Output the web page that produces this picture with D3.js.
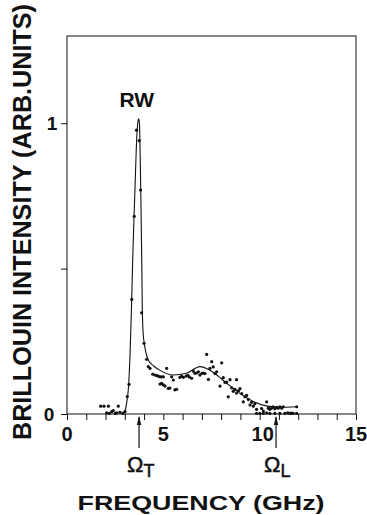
<!DOCTYPE html>
<html>
<head>
<meta charset="utf-8">
<script src="https://cdn.jsdelivr.net/npm/d3@7"></script>
<style>
  body { margin: 0; background: #fff; }
  svg { display: block; font-family: "Liberation Sans", Arial, sans-serif; }
</style>
</head>
<body>
<svg width="367" height="515"></svg>
<script>
// fitted curve (frequency in GHz, intensity in arb. units)
const curveFreq = [2.84, 3.0, 3.1, 3.2, 3.27, 3.34, 3.41, 3.49, 3.55, 3.62, 3.68, 3.72, 3.76, 3.8, 3.84, 3.88, 3.91, 3.95, 4.01, 4.1, 4.22, 4.5, 4.83, 5.5, 6.2, 6.9, 7.3, 7.6, 8.3, 9.0, 9.7, 10.4, 11.0, 11.92];
const curveInt  = [0.0, 0.01, 0.04, 0.1, 0.2, 0.35, 0.53, 0.7, 0.82, 0.95, 1.005, 1.015, 1.0, 0.88, 0.72, 0.52, 0.36, 0.28, 0.243, 0.21, 0.186, 0.165, 0.15, 0.134, 0.14, 0.163, 0.155, 0.143, 0.105, 0.07, 0.042, 0.027, 0.023, 0.025];

// measured points
const dotFreq = [1.75, 1.92, 2.15, 2.66, 2.06, 2.2, 2.32, 2.4, 2.5, 2.58, 2.75, 2.9, 3.01,
  3.13, 3.22, 3.36, 3.49, 3.61, 3.75, 3.82, 3.87, 4.0, 4.13, 4.22, 4.31,
  4.45, 4.57, 4.66, 4.74, 4.83, 4.91, 5.0, 4.83, 4.91, 5.0, 5.09, 5.17, 5.26, 5.34, 5.43, 5.52, 5.6, 5.69,
  5.86, 5.95, 6.04, 6.18, 6.27, 6.35, 6.47, 6.56, 6.64, 6.73, 6.82, 6.9, 7.0, 7.08, 7.16,
  7.25, 7.34, 7.42, 7.51, 7.59, 7.68, 7.77, 7.94, 8.03, 8.11, 8.2, 8.29, 8.37, 8.46, 8.55, 8.63, 8.72,
  8.8, 8.8, 8.9, 8.98, 9.07, 9.15, 9.24, 9.32, 9.41, 9.5, 9.58, 9.67, 9.75, 9.84, 10.01, 10.1, 10.19,
  10.36, 10.45, 10.53, 10.62, 10.7, 10.79, 10.88, 10.96, 11.05, 11.14, 11.22, 11.92,
  9.84, 10.19, 10.36, 10.53, 10.79, 11.05, 11.31, 11.45, 11.57, 11.65, 11.74, 11.92];
const dotInt = [0.027, 0.027, 0.027, 0.027, 0.004, 0.002, 0.008, 0.012, 0.002, 0.004, 0.006, 0.002, 0.008,
  0.06, 0.102, 0.394, 0.68, 0.976, 0.94, 0.77, 0.348, 0.243, 0.188, 0.163, 0.157,
  0.137, 0.134, 0.132, 0.13, 0.128, 0.128, 0.128, 0.103, 0.105, 0.1, 0.096, 0.157, 0.088, 0.089, 0.128, 0.117, 0.083, 0.085,
  0.126, 0.13, 0.126, 0.13, 0.133, 0.127, 0.123, 0.147, 0.14, 0.141, 0.145, 0.134, 0.14, 0.141, 0.139,
  0.205, 0.119, 0.157, 0.18, 0.162, 0.139, 0.145, 0.096, 0.176, 0.125, 0.109, 0.11, 0.059, 0.118, 0.09, 0.078, 0.085,
  0.118, 0.072, 0.08, 0.087, 0.07, 0.042, 0.059, 0.064, 0.05, 0.031, 0.04, 0.027, 0.035, 0.016, 0.002, 0.019, 0.01,
  0.042, 0.02, 0.016, 0.02, 0.025, 0.018, 0.023, 0.02, 0.025, 0.02, 0.025, 0.025,
  0.002, 0.002, 0.004, 0.002, 0.002, 0.002, 0.002, 0.004, 0.002, 0.003, 0.002, 0.002];

const xTicks = [0, 5, 10, 15];
const yTicks = [0, 1];
const marks = [{ f: 3.74, name: "Ω", sub: "T" }, { f: 10.85, name: "Ω", sub: "L" }];

const svg = d3.select("svg");
const ink = "#111";

const m = { left: 67, right: 356, top: 36, bottom: 414 };
const x = d3.scaleLinear().domain([0, 15]).range([m.left, m.right]);
const y = d3.scaleLinear().domain([0, 1.3]).range([m.bottom, m.top]);

// рамка графика
svg.append("rect")
  .attr("x", m.left).attr("y", m.top)
  .attr("width", m.right - m.left).attr("height", m.bottom - m.top)
  .attr("fill", "none").attr("stroke", ink).attr("stroke-width", 1);

// ось X: мелкие деления каждый ГГц
svg.append("g")
  .attr("transform", `translate(0,${m.bottom})`)
  .call(d3.axisBottom(x).ticks(15).tickSize(6).tickFormat(""))
  .call(g => g.select(".domain").remove())
  .call(g => g.selectAll("line").attr("stroke", ink));

svg.append("g")
  .selectAll("text")
  .data(xTicks)
  .enter()
  .append("text")
  .attr("x", d => x(d) + (d === 10 ? 3 : 0))
  .attr("y", 441)
  .attr("text-anchor", "middle")
  .attr("font-size", 20)
  .attr("font-weight", "bold")
  .attr("fill", ink)
  .text(d => d);

// ось Y
svg.append("g")
  .attr("transform", `translate(${m.left},0)`)
  .call(d3.axisLeft(y).tickValues([0, 0.5, 1]).tickSize(6).tickFormat(""))
  .call(g => g.select(".domain").remove())
  .call(g => g.selectAll("line").attr("stroke", ink));

svg.append("g")
  .selectAll("text")
  .data(yTicks)
  .enter()
  .append("text")
  .attr("x", d => d === 1 ? 52 : 49)
  .attr("y", d => y(d) + 7)
  .attr("text-anchor", "middle")
  .attr("font-size", 19)
  .attr("font-weight", "bold")
  .attr("fill", ink)
  .text(d => d);

// кривая
const line = d3.line()
  .x((d, i) => x(curveFreq[i]))
  .y((d, i) => y(curveInt[i]))
  .curve(d3.curveMonotoneX);

svg.append("path")
  .datum(curveFreq)
  .attr("d", line)
  .attr("fill", "none")
  .attr("stroke", ink)
  .attr("stroke-width", 1.1);

// точки
svg.append("g")
  .selectAll("circle")
  .data(dotFreq)
  .enter()
  .append("circle")
  .attr("cx", (d, i) => x(d))
  .attr("cy", (d, i) => y(dotInt[i]))
  .attr("r", 1.6)
  .attr("fill", ink);

// подпись пика
svg.append("text")
  .attr("x", x(3.62))
  .attr("y", 107)
  .attr("text-anchor", "middle")
  .attr("font-size", 21)
  .attr("font-weight", "bold")
  .attr("fill", ink)
  .text("RW");

// стрелки Ω_T и Ω_L
const mk = svg.append("g").selectAll("g").data(marks).enter().append("g");

mk.append("line")
  .attr("x1", d => x(d.f)).attr("x2", d => x(d.f))
  .attr("y1", 448).attr("y2", 417)
  .attr("stroke", ink).attr("stroke-width", 1.2);

mk.append("path")
  .attr("d", d => `M${x(d.f) - 2.2},425 L${x(d.f)},416 L${x(d.f) + 2.2},425 Z`)
  .attr("fill", ink);

const lab = mk.append("text")
  .attr("x", d => x(d.f) - 12)
  .attr("y", 472)
  .attr("font-size", 22)
  .attr("fill", ink)
  .attr("stroke", ink)
  .attr("stroke-width", 0.5);
lab.append("tspan").text(d => d.name);
lab.append("tspan")
  .attr("dy", 5)
  .attr("font-size", 18)
  .text(d => d.sub);

// подписи осей
svg.append("text")
  .attr("x", 201)
  .attr("y", 510)
  .attr("text-anchor", "middle")
  .attr("font-size", 20)
  .attr("font-weight", "bold")
  .attr("textLength", 247)
  .attr("lengthAdjust", "spacingAndGlyphs")
  .attr("fill", ink)
  .text("FREQUENCY (GHz)");

svg.append("text")
  .attr("transform", "translate(31,222) rotate(-90)")
  .attr("text-anchor", "middle")
  .attr("font-size", 25)
  .attr("font-weight", "bold")
  .attr("textLength", 436)
  .attr("lengthAdjust", "spacingAndGlyphs")
  .attr("fill", ink)
  .text("BRILLOUIN INTENSITY (ARB.UNITS)");
</script>
</body>
</html>
